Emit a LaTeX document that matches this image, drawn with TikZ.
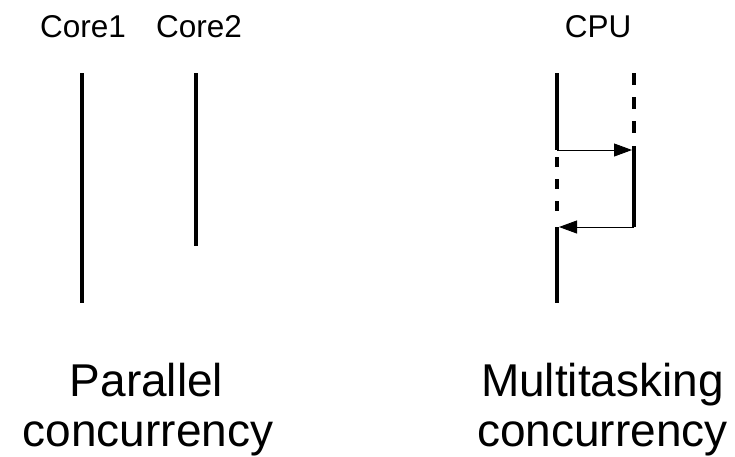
\documentclass[tikz,border=0pt]{standalone}
\usepackage{fontspec}
\setmainfont{Liberation Sans}
\usetikzlibrary{arrows.meta}
\begin{document}
\begin{tikzpicture}[x=1pt,y=-1pt,
  lbl/.style={anchor=base,inner sep=0pt,font=\fontsize{31.5}{36}\selectfont},
  caption/.style={anchor=base,inner sep=0pt,font=\fontsize{46}{53}\selectfont},
  thread/.style={line width=4.5pt},
  waiting/.style={line width=4.5pt,dash pattern=on 12pt off 12pt},
  switch/.style={line width=0.9pt,-{Triangle[length=18pt,width=13pt]}}]
\useasboundingbox (0,0) rectangle (735,456);

% headings
\node[lbl] (c1) at (83,37) {Core1};
\node[lbl] (c2) at (199,37) {Core2};
\node[lbl] (cpu) at (598,37) {CPU};

% parallel timelines
\coordinate (a1) at (82,73);  \coordinate (a2) at (82,303);
\coordinate (b1) at (196,73); \coordinate (b2) at (196,246);
\draw[thread] (a1) -- (a2);
\draw[thread] (b1) -- (b2);

% multitasking timeline: task A
\coordinate (p1) at (557,73);  \coordinate (p2) at (557,150);
\coordinate (p3) at (557,157); \coordinate (p4) at (557,216);
\coordinate (p5) at (557,227); \coordinate (p6) at (557,303);
\draw[thread] (p1) -- (p2);
\draw[line width=4.5pt,dash pattern=on 10pt off 12pt] (p3) -- (p4);
\draw[thread] (p5) -- (p6);

% task B
\coordinate (q1) at (634,73);  \coordinate (q2) at (634,134);
\coordinate (q3) at (634,146); \coordinate (q4) at (634,227);
\draw[waiting] (q1) -- (q2);
\draw[thread] (q3) -- (q4);

% context switches
\coordinate (s1) at (557,150); \coordinate (s2) at (632,150);
\coordinate (r1) at (634,227); \coordinate (r2) at (559,227);
\draw[switch] (s1) -- (s2);
\draw[switch] (r1) -- (r2);

% captions
\node[caption] (par) at (146.5,396) {Parallel};
\node[caption] (parc) at (148,446) {concurrency};
\node[caption] (mul) at (602.5,396) {Multitasking};
\node[caption] (mulc) at (602.5,446) {concurrency};
\end{tikzpicture}
\end{document}
